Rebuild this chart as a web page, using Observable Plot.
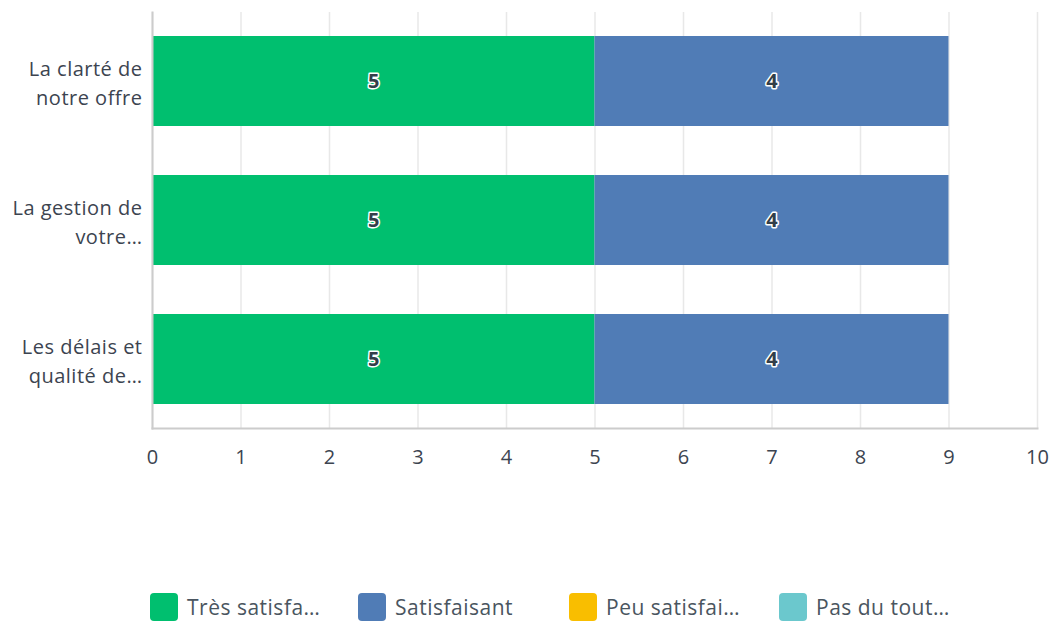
<!DOCTYPE html>
<html>
<head>
<meta charset="utf-8">
<script src="https://cdn.jsdelivr.net/npm/d3@7"></script>
<script src="https://cdn.jsdelivr.net/npm/@observablehq/plot@0.6"></script>
<style>
  body { margin: 0; background: #fff; font-family: "Open Sans", Roboto, sans-serif; }
  #legend { display: flex; margin-top: 103px; height: 28px; align-items: center; font-size: 21px; letter-spacing: 0.5px; color: #4a5560; }
  .item { position: absolute; display: flex; align-items: center; }
  .sw { width: 28px; height: 28px; border-radius: 4px; margin-right: 9px; }
  svg text.ylab { letter-spacing: 0.5px; }
</style>
</head>
<body>
<div id="chart"></div>
<div id="legend"></div>
<script>
const categories = ["La clarté de\nnotre offre", "La gestion de\nvotre…", "Les délais et\nqualité de…"];
const series = ["Très satisfa…", "Satisfaisant", "Peu satisfai…", "Pas du tout…"];
const colors = ["#00bf6f", "#507cb6", "#f9be00", "#6bc8cd"];
const values = [
  [5, 4, 0, 0],
  [5, 4, 0, 0],
  [5, 4, 0, 0]
];
const xTicks = [0,1,2,3,4,5,6,7,8,9,10];

const data = [];
categories.forEach((c, i) => series.forEach((s, j) => data.push({cat: c, series: s, value: values[i][j]})));

const chart = Plot.plot({
  width: 1051,
  height: 490,
  marginLeft: 152,
  marginRight: 14,
  marginTop: 12,
  marginBottom: 62,
  style: {fontFamily: "'Open Sans', sans-serif", color: "#3c4450", background: "#fff"},
  x: {domain: [0, 10], ticks: xTicks},
  y: {domain: categories, paddingInner: 0.355, paddingOuter: 0.17},
  color: {domain: series, range: colors},
  marks: [
    Plot.gridX(xTicks, {stroke: "#e8e8e8", strokeOpacity: 1, strokeWidth: 1.5}),
    Plot.barX(data, Plot.stackX({x: "value", y: "cat", fill: "series", order: null})),
    Plot.frame({anchor: "left", stroke: "#cccccc", strokeWidth: 2}),
    Plot.frame({anchor: "bottom", stroke: "#cccccc", strokeWidth: 2}),
    Plot.text(data, Plot.stackX({
      x: "value", y: "cat", z: "series", order: null,
      filter: d => d.value > 0,
      text: d => String(d.value),
      fill: "#333e48", stroke: "white", strokeWidth: 3, paintOrder: "stroke",
      fontWeight: "bold", fontSize: 20
    })),
    Plot.axisX(xTicks, {tickSize: 0, tickPadding: 21, fontSize: 20, fill: "#3c4450", label: null}),
    Plot.axisY({tickSize: 0, tickPadding: 10, fontSize: 20, fill: "#3c4450", lineHeight: 1.45, label: null, className: "ylab"})
  ]
});
chart.querySelectorAll("[aria-label='y-axis tick label'] text").forEach(t => t.style.letterSpacing = "0.5px");
document.getElementById("chart").append(chart);

const legend = document.getElementById("legend");
const xs = [150, 358, 569, 779];
series.forEach((s, i) => {
  const it = document.createElement("div");
  it.className = "item";
  it.style.left = xs[i] + "px";
  const sw = document.createElement("div");
  sw.className = "sw";
  sw.style.background = colors[i];
  const t = document.createElement("span");
  t.textContent = s;
  it.append(sw, t);
  legend.append(it);
});
</script>
</body>
</html>
